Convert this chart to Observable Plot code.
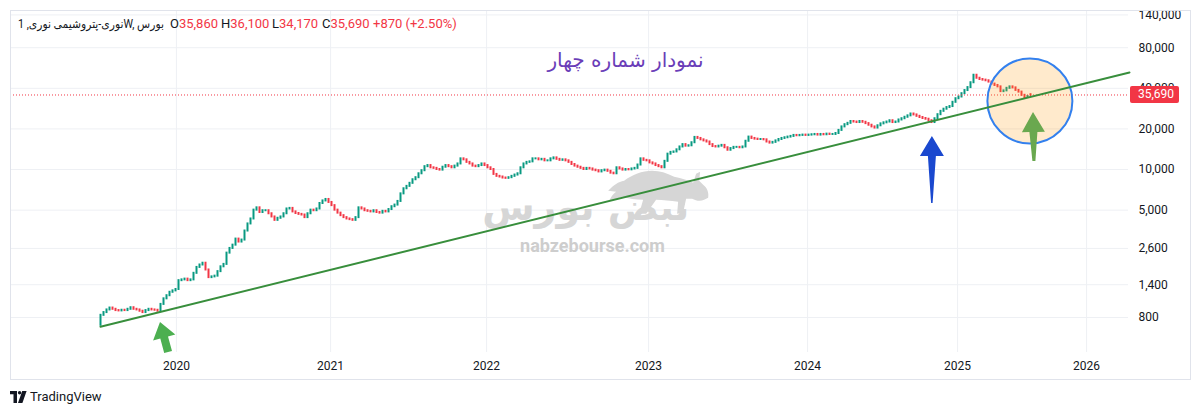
<!DOCTYPE html>
<html>
<head>
<meta charset="utf-8">
<script src="https://cdn.jsdelivr.net/npm/d3@7"></script>
<script src="https://cdn.jsdelivr.net/npm/@observablehq/plot@0.6"></script>
<style>
  body { margin: 0; background: #ffffff; font-family: Roboto, "DejaVu Sans", sans-serif; }
  #wrap { position: relative; width: 1200px; height: 415px; overflow: hidden; background: #fff; }
  #chart { position: absolute; left: 0; top: 0; }
  #frame { position: absolute; left: 10px; top: 10px; width: 1181px; height: 370px; box-sizing: border-box; border: 1px solid #e0e3eb; pointer-events: none; }
  .hdr { position: absolute; top: 16px; font-size: 13px; line-height: 16px; color: #131722; white-space: nowrap; }
  .hdr .v { color: #f23645; }
  .hdr.sym { font-size: 12px; transform-origin: 0 50%; }
  #tv { position: absolute; left: 10px; top: 389px; font-size: 13px; line-height: 16px; color: #131722; display: flex; align-items: center; gap: 3px; }
  #plabel { position: absolute; left: 1130px; width: 49px; height: 17px; line-height: 17px; box-sizing: border-box; padding-left: 8px; background: #f23645; color: #fff; font-size: 12px; border-radius: 2px; }
</style>
</head>
<body>
<div id="wrap">
  <div id="chart"></div>
  <div id="frame"></div>
  <div id="header"></div>
  <div id="plabel"></div>
  <div id="tv"></div>
</div>
<script>
// ---------- data ----------
const symbolText = "نوری-پتروشیمی نوری, 1W, بورس";
const firstOpen = 700;
// weekly closes, one per bar
const closes = [
  830, 870, 910, 940, 920, 900, 895, 905, 900, 920, 945, 920, 910, 890, 870, 900, 920, 910, 905, 890,
  1000, 1100, 1160, 1230, 1260, 1290, 1500, 1520, 1540, 1500, 1520, 1700, 1880, 1960, 2020, 1800, 1580, 1600, 1620, 1750,
  1900, 1980, 2400, 2600, 2750, 3050, 2900, 3000, 3500, 3950, 4300, 5000, 5200, 4800, 4950, 4950, 4700, 4450, 4200, 4350,
  4450, 4700, 5100, 5150, 4850, 4720, 4650, 4600, 4400, 4700, 5000, 4950, 5100, 5600, 5850, 6000, 5700, 5400, 5000, 4750,
  4550, 4400, 4300, 4250, 4200, 4400, 5200, 5100, 4950, 4900, 4850, 4950, 4800, 4750, 4900, 4850, 5050, 5300, 5450, 5800,
  6600, 7200, 7500, 7900, 8400, 8700, 9300, 9800, 10500, 10700, 10300, 10200, 10000, 9900, 10400, 10700, 10500, 10300, 10600, 11000,
  12000, 11800, 11300, 11000, 10600, 10500, 10700, 11000, 10700, 10300, 10000, 9200, 8900, 8800, 8650, 8600, 8700, 8900, 9100, 9300,
  10300, 11000, 11300, 11400, 12000, 12000, 11800, 11900, 11600, 11600, 12000, 12200, 11900, 11700, 11800, 11600, 11300, 10900, 10600, 10400,
  10200, 10000, 10200, 10100, 9900, 9800, 9600, 9800, 9900, 9700, 9400, 9300, 10300, 10100, 9900, 10000, 9950, 10100, 10200, 10800,
  12000, 11700, 11600, 11200, 11000, 10700, 10500, 10300, 11500, 13000, 13400, 13500, 14000, 14700, 15300, 14900, 15000, 15800, 17300, 17000,
  16600, 16300, 16000, 15300, 14800, 14700, 14900, 15100, 14500, 13900, 14300, 14600, 14600, 14500, 14700, 16200, 17400, 17000, 16800, 16700,
  16700, 16600, 16000, 15700, 15900, 16300, 16700, 17000, 17200, 17400, 17600, 17900, 17800, 17900, 18000, 17900, 18000, 18100, 18200, 18000,
  18200, 18100, 18300, 18200, 18200, 18500, 19500, 20700, 21500, 22000, 22700, 22500, 22300, 22700, 22400, 21900, 21300, 20700, 20300, 21100,
  21800, 22200, 22500, 23000, 22300, 22500, 23300, 23800, 24400, 25000, 25800, 25400, 24800, 24300, 23900, 23600, 23000, 22300, 23800, 25500,
  27000, 28000, 28800, 29300, 31500, 33500, 34500, 36500, 38500, 40500, 44000, 50000, 47500, 46500, 46000, 45500, 44500, 43000, 42000, 41000,
  37800, 38300, 40000, 41000, 40300, 38600, 37500, 35500, 34200, 34820, 35690
];
const lastOHLC = { open: 35860, high: 36100, low: 34170, close: 35690, change: 870, changePct: 2.50 };
const yTicks = [800, 1400, 2600, 5000, 10000, 20000, 40000, 80000, 140000];
const yearBars = [25.3, 76.7, 128.7, 182.7, 235.7, 285.7, 328.7];
const yearLabels = ["2020", "2021", "2022", "2023", "2024", "2025", "2026"];
const trendLine = [ { bar: 0, price: 684 }, { bar: 343, price: 52400 } ];
const circleNote = [ { bar: 309.8, price: 32200 } ];
const titleNote = [ { bar: 175, price: 64300, text: "نمودار شماره چهار" } ];
const arrowNotes = [
  { kind: "green", fromBar: 22.7, fromPrice: 440,  toBar: 20,    toPrice: 734 },
  { kind: "blue",  fromBar: 277.3, fromPrice: 5600, toBar: 277.3, toPrice: 17570 },
  { kind: "olive", fromBar: 311.3, fromPrice: 11460, toBar: 311,  toPrice: 26460 }
];

// ---------- derived table ----------
const n = closes.length;
const candles = closes.map((c, i) => ({
  bar: i,
  open: i === 0 ? firstOpen : (i === n - 1 ? lastOHLC.open : closes[i - 1]),
  close: c
}));
const lastWick = [{ bar: n - 1, low: lastOHLC.low, high: lastOHLC.high }];

const UP = "#089981", DOWN = "#f23645";
const fmt = d3.format(",");

function findScales(args) {
  for (const a of args) if (a && typeof a.x === "function" && typeof a.y === "function") return a;
  return null;
}
function findDims(args) {
  for (const a of args) if (a && typeof a.width === "number" && typeof a.marginLeft === "number") return a;
  return null;
}

const arrowStyle = {
  green: { fill: "#4caf50", head: 16, headW: 23, w1: 8, w2: 8 },
  blue:  { fill: "#1a48cf", head: 20, headW: 24, w1: 8, w2: 1.5 },
  olive: { fill: "#6aa84f", head: 20, headW: 23, w1: 8, w2: 3 }
};
function arrowPath(tx, ty, bx, by, s) {
  const dx = tx - bx, dy = ty - by, L = Math.hypot(dx, dy);
  const ux = dx / L, uy = dy / L, nx = -uy, ny = ux;
  const hx = tx - ux * s.head, hy = ty - uy * s.head;
  const p = [
    [tx, ty],
    [hx + nx * s.headW / 2, hy + ny * s.headW / 2],
    [hx + nx * s.w1 / 2, hy + ny * s.w1 / 2],
    [bx + nx * s.w2 / 2, by + ny * s.w2 / 2],
    [bx - nx * s.w2 / 2, by - ny * s.w2 / 2],
    [hx - nx * s.w1 / 2, hy - ny * s.w1 / 2],
    [hx - nx * s.headW / 2, hy - ny * s.headW / 2]
  ];
  return "M" + p.map(q => q[0].toFixed(1) + "," + q[1].toFixed(1)).join("L") + "Z";
}

function watermark() {
  const d = findDims(arguments);
  const g = d3.create("svg:g").attr("pointer-events", "none");
  const L = d.marginLeft, R = d.width - d.marginRight, T = d.marginTop, B = d.height - d.marginBottom;
  const px = f => L + (R - L) * f, py = f => T + (B - T) * f;
  const bx = px(0.535), by = py(0.47);
  // charging bull silhouette
  g.append("path")
    .attr("transform", `translate(${bx},${by})`)
    .attr("fill", "#d6d6d6")
    .attr("d", "M0,20 C6,14 10,11 16,10 C24,4 34,0 44,0 C52,0 58,2 66,6 C74,8 80,9 85,12 L88,3 L92,1 L91,10 L95,14 C99,17 101,22 100,27 L96,29 C92,31 88,30 84,28 L78,28 L75,42 L69,43 L70,31 C62,30 55,29 48,29 L38,43 L31,43 L35,29 C28,29 20,28 14,26 C10,28 5,29 1,30 C3,26 5,23 8,21 Z");
  g.append("text")
    .attr("x", px(0.515)).attr("y", py(0.615))
    .attr("text-anchor", "middle")
    .attr("font-family", "'DejaVu Sans', sans-serif")
    .attr("font-size", 38).attr("font-weight", "bold")
    .attr("fill", "#d6d6d6")
    .text("نبض بورس");
  g.append("text")
    .attr("x", px(0.521)).attr("y", py(0.69))
    .attr("text-anchor", "middle").attr("dominant-baseline", "central")
    .attr("font-family", "Roboto, sans-serif")
    .attr("font-size", 18).attr("font-weight", "bold")
    .attr("fill", "#cdcdcd")
    .text("nabzebourse.com");
  return g.node();
}

function arrowsMark() {
  const s = findScales(arguments);
  const g = d3.create("svg:g");
  for (const a of arrowNotes) {
    const st = arrowStyle[a.kind];
    g.append("path")
      .attr("fill", st.fill)
      .attr("d", arrowPath(s.x(a.toBar), s.y(a.toPrice), s.x(a.fromBar), s.y(a.fromPrice), st));
  }
  return g.node();
}

const chart = Plot.plot({
  width: 1200,
  height: 380,
  marginTop: 10,
  marginBottom: 28,
  marginLeft: 10,
  marginRight: 72,
  style: { fontFamily: "Roboto, 'DejaVu Sans', sans-serif", fontSize: "12px", color: "#131722", background: "transparent", overflow: "visible" },
  x: { type: "linear", domain: [-30, 342.67], label: null },
  y: { type: "log", domain: [440, 151000], axis: null, label: null },
  marks: [
    Plot.gridX({ ticks: yearBars, stroke: "#eef0f4", strokeOpacity: 1 }),
    Plot.gridY({ ticks: yTicks, stroke: "#eef0f4", strokeOpacity: 1 }),
    watermark,
    Plot.axisX({ ticks: yearBars, tickFormat: d => yearLabels[yearBars.indexOf(d)], tickSize: 0, tickPadding: 9, fontSize: 12, label: null }),
    Plot.text(yTicks, { y: d => d, text: d => fmt(d), frameAnchor: "right", dx: 10, textAnchor: "start", fill: "#131722", fontSize: 12 }),
    Plot.ruleX(lastWick, { x: "bar", y1: "low", y2: "high", stroke: DOWN, strokeWidth: 1 }),
    Plot.ruleX(candles, {
      x: "bar", y1: "open", y2: "close",
      stroke: d => d.close >= d.open ? UP : DOWN,
      strokeWidth: 2, strokeLinecap: "square"
    }),
    Plot.ruleY([lastOHLC.close], { stroke: DOWN, strokeDasharray: "1,2", strokeWidth: 1 }),
    Plot.dot(circleNote, { x: "bar", y: "price", r: 42.5, fill: "#ff9800", fillOpacity: 0.2, stroke: "#3380ee", strokeWidth: 2 }),
    Plot.line(trendLine, { x: "bar", y: "price", stroke: "#388e3c", strokeWidth: 2 }),
    Plot.text(titleNote, { x: "bar", y: "price", text: "text", fontSize: 20, fill: "#6a3db8", fontFamily: "'DejaVu Sans', sans-serif" }),
    arrowsMark
  ]
});
document.getElementById("chart").appendChild(chart);

// last-price label on the price scale
const yScale = chart.scale("y");
const plabel = document.getElementById("plabel");
plabel.textContent = fmt(lastOHLC.close);
plabel.style.top = (yScale.apply(lastOHLC.close) - 8.5) + "px";

// header legend
const header = document.getElementById("header");
const hdrItems = [
  { left: 18, cls: "hdr sym", html: `<span>${symbolText}</span>`, fit: 146 },
  { left: 170, cls: "hdr", html: `O<span class="v">${fmt(lastOHLC.open)}</span>` },
  { left: 221, cls: "hdr", html: `H<span class="v">${fmt(lastOHLC.high)}</span>` },
  { left: 272, cls: "hdr", html: `L<span class="v">${fmt(lastOHLC.low)}</span>` },
  { left: 322, cls: "hdr", html: `C<span class="v">${fmt(lastOHLC.close)}</span>` },
  { left: 373, cls: "hdr", html: `<span class="v">+${fmt(lastOHLC.change)} (+${lastOHLC.changePct.toFixed(2)}%)</span>` }
];
for (const h of hdrItems) {
  const el = document.createElement("div");
  el.className = h.cls;
  el.style.left = h.left + "px";
  el.innerHTML = h.html;
  header.appendChild(el);
  if (h.fit) {
    const w = el.getBoundingClientRect().width;
    if (w > h.fit) el.style.transform = `scaleX(${(h.fit / w).toFixed(3)})`;
  }
}

// TradingView logo
document.getElementById("tv").innerHTML =
  `<svg width="17" height="12" viewBox="0 0 17 12"><path d="M0 0H7V12H3.5V3.3H0Z" fill="#131722"/><circle cx="9.6" cy="1.7" r="1.7" fill="#131722"/><path d="M12.2 0H16.6L12.4 12H8Z" fill="#131722"/></svg><span>TradingView</span>`;
</script>
</body>
</html>
